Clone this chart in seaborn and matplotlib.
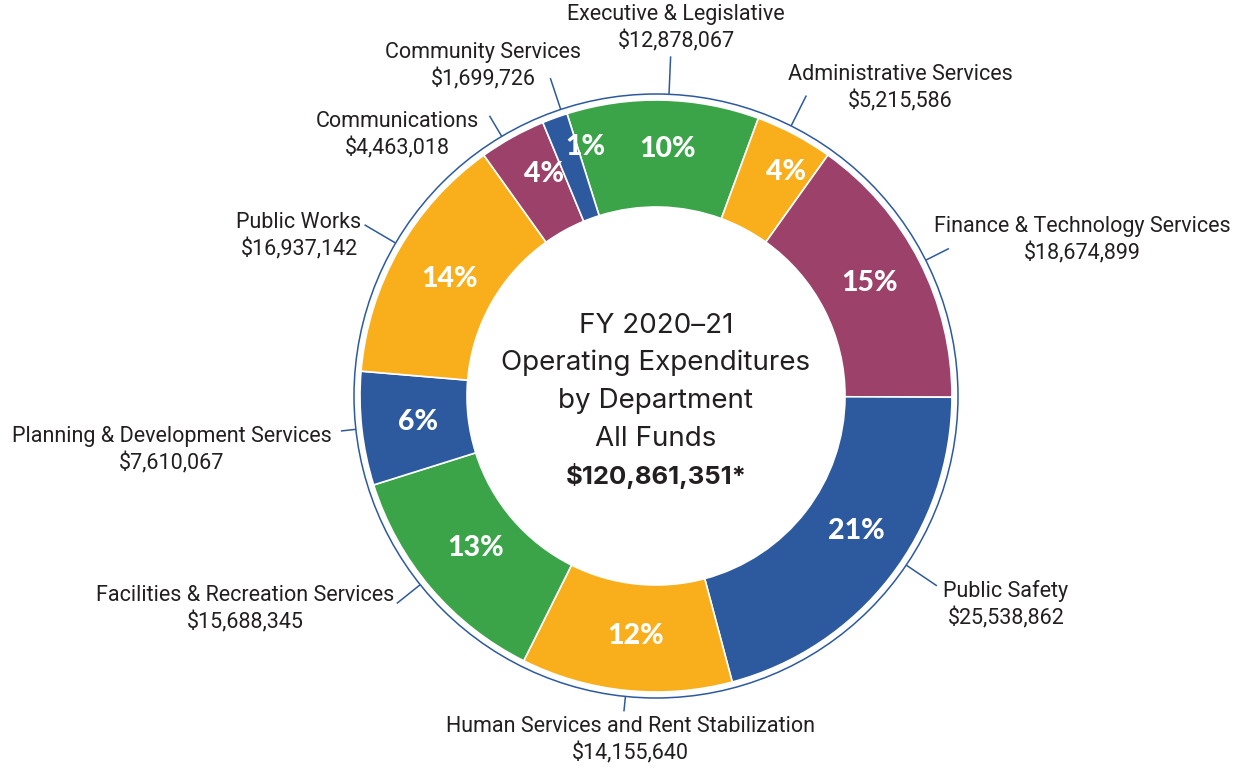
import numpy as np
import matplotlib
matplotlib.use("Agg")
import matplotlib.pyplot as plt
from matplotlib.patches import Circle
import seaborn as sns

# ---- data ----
departments = [
    "Executive & Legislative",
    "Administrative Services",
    "Finance & Technology Services",
    "Public Safety",
    "Human Services and Rent Stabilization",
    "Facilities & Recreation Services",
    "Planning & Development Services",
    "Public Works",
    "Communications",
    "Community Services",
]
amounts = [12878067, 5215586, 18674899, 25538862, 14155640,
           15688345, 7610067, 16937142, 4463018, 1699726]
dept_colors = ["#3BA449", "#F9AE1C", "#9C426A", "#2D5A9F", "#F9AE1C",
               "#3BA449", "#2D5A9F", "#F9AE1C", "#9C426A", "#2D5A9F"]
title_lines = ["FY 2020\u201321", "Operating Expenditures", "by Department", "All Funds"]
total_label = "$120,861,351*"

# ---- layout (pixel space) ----
W, H = 1242, 769
CX, CY = 656, H - 396
R_OUT, R_IN, R_RING = 296, 189, 302
START = 107.5

# label text centres (pixel, y-down), leader lengths and angle nudges (deg, clockwise)
label_pos = [(676, 28), (900, 88), (1082, 240), (1006, 605), (630, 740),
             (245, 609), (172, 450), (299, 236), (397, 135), (483, 66)]
leader_len = [38, 34, 26, 37, 15, 30, 15, 36, 24, 33]
leader_shift = [1.1, -1.3, 0.4, -3.6, 0, 1.8, 0, 0.8, -1.7, 1.6]
# percent label nudges: angle (deg, clockwise) and radius (px)
pct_shift = [1.4, 2.3, -0.7, -3.7, -1.0, 0.5, 0, 0, 2.2, 4.1]
pct_radius = [247, 259, 242, 242, 241, 236, 239, 237, 249, 259]

TXT = "#231F20"
BLUE = "#2D5A9F"

sns.set_theme(style="white")
palette = sns.color_palette(dept_colors)

fig = plt.figure(figsize=(W / 100, H / 100), dpi=100)
ax = fig.add_axes([0, 0, 1, 1])

wedges, _, autotexts = ax.pie(
    amounts,
    colors=palette,
    radius=R_OUT,
    center=(CX, CY),
    startangle=START,
    counterclock=False,
    autopct="%.0f%%",
    pctdistance=(R_OUT + R_IN) / 2 / R_OUT,
    wedgeprops=dict(width=R_OUT - R_IN, edgecolor="white", linewidth=1.2),
    textprops=dict(color="white", fontsize=20.5, fontweight=900,
                   family=["Lato", "DejaVu Sans"]),
)

# nudge percentage labels
for w, t, da, rr in zip(wedges, autotexts, pct_shift, pct_radius):
    mid = np.deg2rad((w.theta1 + w.theta2) / 2 - da)
    t.set_position((CX + rr * np.cos(mid), CY + rr * np.sin(mid)))

ax.add_patch(Circle((CX, CY), R_RING, fill=False, edgecolor=BLUE, linewidth=1.1))

# labels with leader lines
for w, name, amt, (tx, ty), L, da in zip(wedges, departments, amounts, label_pos,
                                          leader_len, leader_shift):
    mid = np.deg2rad((w.theta1 + w.theta2) / 2 - da)
    x0, y0 = CX + R_RING * np.cos(mid), CY + R_RING * np.sin(mid)
    x1, y1 = CX + (R_RING + L) * np.cos(mid), CY + (R_RING + L) * np.sin(mid)
    ax.plot([x0, x1], [y0, y1], color=BLUE, linewidth=1.1, solid_capstyle="butt")
    ax.text(tx, H - ty, f"{name}\n${amt:,.0f}", ha="center", va="center",
            multialignment="center", fontsize=15.5, color=TXT, linespacing=1.3,
            family=["Roboto", "DejaVu Sans"])

# centre title
title_y = [326, 363, 401, 439]
for line, yy in zip(title_lines, title_y):
    ax.text(CX, H - yy, line, ha="center", va="center", fontsize=20, color=TXT,
            family=["Inter", "DejaVu Sans"])
ax.text(CX, H - 476, total_label, ha="center", va="center", fontsize=18.5,
        fontweight="bold", color=TXT, family=["Inter", "DejaVu Sans"])

ax.set_xlim(0, W)
ax.set_ylim(0, H)
ax.set_aspect("equal")
ax.set_position([0, 0, 1, 1])
ax.axis("off")

fig.savefig("out.png", dpi=100)
